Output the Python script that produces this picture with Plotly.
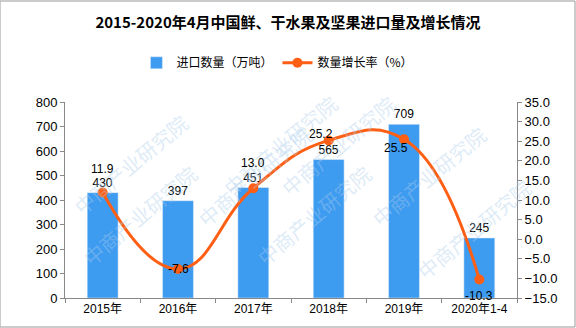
import plotly.graph_objects as go

categories = ["2015年", "2016年", "2017年", "2018年", "2019年", "2020年1-4"]
volume = [430, 397, 451, 565, 709, 245]
growth = [11.9, -7.6, 13.0, 25.2, 25.5, -10.3]
# label offsets (px) for growth labels: (xshift, yshift)
growth_shift = [(0, 24), (0, 0), (0, 25), (-8, 6), (-8, -9), (0, -16)]

font_family = "Liberation Sans, Noto Sans CJK SC, sans-serif"

fig = go.Figure()
fig.add_trace(go.Bar(
    x=categories, y=volume, name="进口数量（万吨）",
    marker_color="#3d9bf0", width=0.41,
    text=[str(v) for v in volume], textposition="outside",
    textfont=dict(size=12, color="#000000", family=font_family),
    cliponaxis=False,
))
fig.add_trace(go.Scatter(
    x=categories, y=growth, name="数量增长率（%）", yaxis="y2",
    mode="lines+markers",
    line=dict(color="#ff5f14", width=3, shape="spline", smoothing=1.3),
    marker=dict(size=10, color="#ff5f14"),
    cliponaxis=False,
))

anns = []
# watermarks
for (x, y) in [(0.0, 0.98), (0.33, 1.08), (0.75, 1.08), (0.42, 0.62), (0.95, 0.62),
               (0.02, 0.42), (0.55, 0.12), (1.05, 0.05)]:
    anns.append(dict(text="中商产业研究院", xref="paper", yref="paper", x=x, y=y,
                     showarrow=False, textangle=-40,
                     font=dict(size=20, color="rgba(170,205,235,0.4)", family="Noto Sans CJK SC")))
# growth labels
for c, g, (xs, ys) in zip(categories, growth, growth_shift):
    anns.append(dict(text=f"{g:.1f}", x=c, y=g, xref="x", yref="y2", showarrow=False,
                     xshift=xs, yshift=ys,
                     font=dict(size=12, color="#000000", family=font_family)))

fig.update_layout(
    width=576, height=328,
    margin=dict(l=65, r=59, t=102, b=30),
    paper_bgcolor="white", plot_bgcolor="rgba(0,0,0,0)",
    title=dict(text="<b>2015-2020年4月中国鲜、干水果及坚果进口量及增长情况</b>",
               x=0.5, xanchor="center", y=0.93, yanchor="middle",
               font=dict(size=15, color="#000000", family="Noto Sans CJK SC")),
    legend=dict(orientation="h", x=0.47, xanchor="center", y=1.2, yanchor="middle",
                font=dict(size=12, color="#000000", family="Noto Sans CJK SC"),
                itemwidth=30, traceorder="normal"),
    font=dict(family=font_family, color="#000000"),
    xaxis=dict(type="category", showline=True, linecolor="#888888", linewidth=1,
               ticks="outside", tickson="boundaries", ticklen=4, tickcolor="#888888",
               tickfont=dict(size=12, family=font_family), showgrid=False),
    yaxis=dict(range=[0, 800], dtick=100, showline=True, linecolor="#888888",
               ticks="outside", ticklen=4, tickcolor="#888888", showgrid=False,
               zeroline=False, tickfont=dict(size=13, family=font_family)),
    yaxis2=dict(range=[-15, 35], dtick=5, overlaying="y", side="right",
                showline=True, linecolor="#888888", ticks="outside", ticklen=4,
                tickcolor="#888888", showgrid=False, zeroline=False,
                tickformat=".1f", tickfont=dict(size=13, family=font_family)),
    annotations=anns,
    shapes=[dict(type="rect", xref="paper", yref="paper", x0=-65/452, x1=1 + 58/452,
                 y0=-29/196, y1=1 + 101/196, line=dict(color="#999999", width=1))],
)

fig.write_html("out.html")
